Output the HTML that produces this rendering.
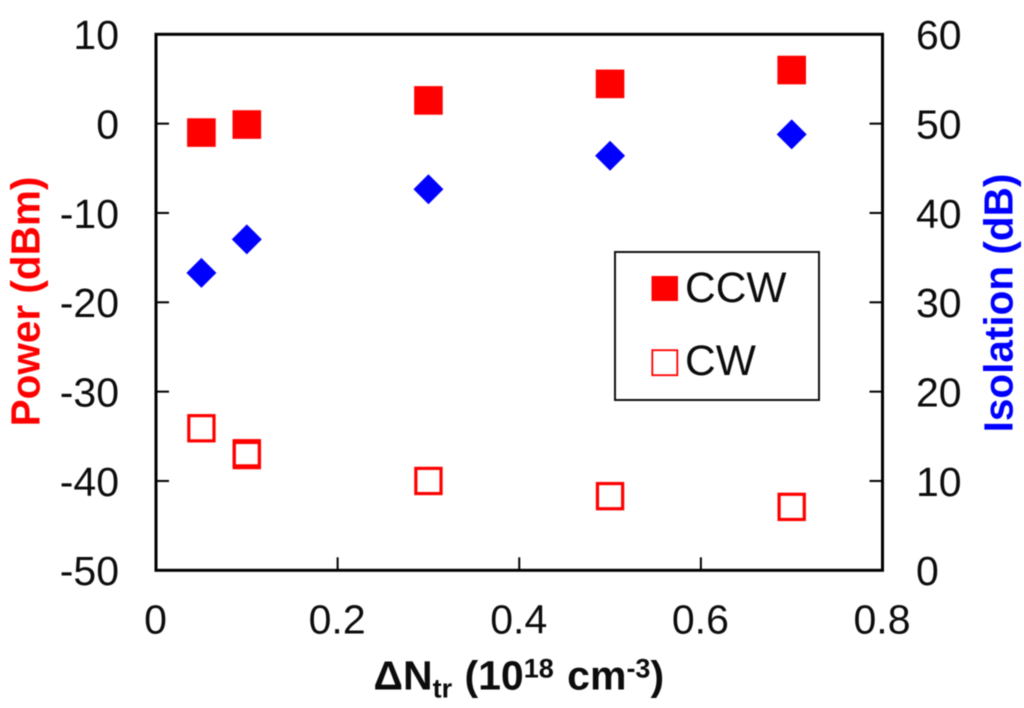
<!DOCTYPE html>
<html>
<head>
<meta charset="utf-8">
<style>
html,body{margin:0;padding:0;background:#fff;}
svg{display:block;filter:blur(0.45px);}
text{font-family:"Liberation Sans",Arial,sans-serif;}
</style>
</head>
<body>
<svg id="chart" xmlns="http://www.w3.org/2000/svg" width="1024" height="708" viewBox="0 0 1024 708"></svg>
<script>
const xValues = [0.05, 0.1, 0.3, 0.5, 0.7];
const ccwPower = [-1, -0.1, 2.6, 4.45, 6];
const isolation = [33.3, 37.05, 42.65, 46.4, 48.8];
const cwXValues = [0.05, 0.1, 0.1, 0.3, 0.5, 0.7];
const cwPower = [-34.1, -36.9, -37.1, -40, -41.7, -42.9];
const xTicks = [0, 0.2, 0.4, 0.6, 0.8];
const xTickLabels = ['0', '0.2', '0.4', '0.6', '0.8'];
const leftTicks = [10, 0, -10, -20, -30, -40, -50];
const rightTicks = [60, 50, 40, 30, 20, 10, 0];

const plotLeft = 156, plotRight = 882.5, plotTop = 34.3, plotBottom = 570.3;
const inkBlack = '#0c0c0c', red = '#ff0000', blue = '#0000ff';
const sx = v => plotLeft + (v - 0) / 0.8 * (plotRight - plotLeft);
const syLeft = v => plotTop + (10 - v) / 60 * (plotBottom - plotTop);
const syRight = v => plotTop + (60 - v) / 60 * (plotBottom - plotTop);

const svg = document.getElementById('chart');
const NS = 'http://www.w3.org/2000/svg';
function make(tag, attrs, parent, txt) {
  const el = document.createElementNS(NS, tag);
  for (const k in attrs) el.setAttribute(k, attrs[k]);
  if (txt !== undefined) el.textContent = txt;
  (parent || svg).appendChild(el);
  return el;
}

const frame = make('rect', {x: plotLeft, y: plotTop, width: plotRight - plotLeft, height: plotBottom - plotTop, fill: 'none', stroke: '#000', 'stroke-width': 3});



xTicks.forEach((t, i) => {
  const x = sx(t);
  const tick = make('line', {x1: x, x2: x, y1: plotBottom, y2: plotBottom - 13, stroke: '#000', 'stroke-width': 2});
  
  
  const label = make('text', {x: x - 0.5, y: 633.5, 'text-anchor': 'middle', 'font-size': 41, fill: inkBlack}, svg, xTickLabels[i]);
  
  
});

leftTicks.forEach(t => {
  const y = syLeft(t);
  const tick = make('line', {x1: plotLeft, x2: plotLeft + 13, y1: y, y2: y, stroke: '#000', 'stroke-width': 2});
  
  
  const label = make('text', {x: 119, y: y + 14.8, 'text-anchor': 'end', 'font-size': 41, fill: inkBlack}, svg, String(t));
  
  
});

rightTicks.forEach(t => {
  const y = syRight(t);
  const tick = make('line', {x1: plotRight - 13, x2: plotRight, y1: y, y2: y, stroke: '#000', 'stroke-width': 2});
  
  
  const label = make('text', {x: 916, y: y + 14.8, 'text-anchor': 'start', 'font-size': 41, fill: inkBlack}, svg, String(t));
  
  
});

xValues.forEach((v, i) => {
  const x = sx(v);
  const yCcw = syLeft(ccwPower[i]);
  const ccw = make('rect', {x: x - 14.3, y: yCcw - 14.3, width: 28.6, height: 28.6, fill: red});
  
  

  const yIso = syRight(isolation[i]);
  const iso = make('polygon', {points: `${x},${yIso - 15} ${x + 15},${yIso} ${x},${yIso + 15} ${x - 15},${yIso}`, fill: blue});
  
  
});

cwXValues.forEach((v, i) => {
  const x = sx(v);
  const yCw = syLeft(cwPower[i]);
  const cw = make('rect', {x: x - 12.6, y: yCw - 12.6, width: 25.2, height: 25.2, fill: 'none', stroke: red, 'stroke-width': 3.2});
  
  
});

const legendBox = make('rect', {x: 615, y: 252, width: 204, height: 148, fill: '#fff', stroke: '#111', 'stroke-width': 2});



const swatchCcw = make('rect', {x: 651.5, y: 276, width: 26.5, height: 25, fill: red});


const labelCcw = make('text', {x: 685, y: 302, 'font-size': 42.5, fill: inkBlack}, svg, 'CCW');



const swatchCw = make('rect', {x: 652.3, y: 350.2, width: 25, height: 25, fill: '#fff', stroke: red, 'stroke-width': 1.8});


const labelCw = make('text', {x: 685, y: 375, 'font-size': 42.5, fill: inkBlack}, svg, 'CW');



const xTitle = make('text', {x: 373.5, y: 689.5, 'text-anchor': 'start', 'font-size': 41, 'font-weight': 'bold', fill: inkBlack});


make('tspan', {}, xTitle, 'ΔN');
make('tspan', {'font-size': 27, dy: 8}, xTitle, 'tr');
make('tspan', {dy: -8, dx: 1}, xTitle, ' (10');
make('tspan', {'font-size': 27, dy: -12}, xTitle, '18');
make('tspan', {dy: 12, dx: 2}, xTitle, ' cm');
make('tspan', {'font-size': 27, dy: -12}, xTitle, '-3');
make('tspan', {dy: 12}, xTitle, ')');

const yLeftTitle = make('text', {x: 0, y: 0, transform: 'translate(39.5 301.5) rotate(-90)', 'text-anchor': 'middle', 'font-size': 40.5, 'font-weight': 'bold', fill: red}, svg, 'Power (dBm)');



const yRightTitle = make('text', {x: 0, y: 0, transform: 'translate(1012.3 303) rotate(-90)', 'text-anchor': 'middle', 'font-size': 40.5, 'font-weight': 'bold', fill: blue}, svg, 'Isolation (dB)');


</script>
</body>
</html>
